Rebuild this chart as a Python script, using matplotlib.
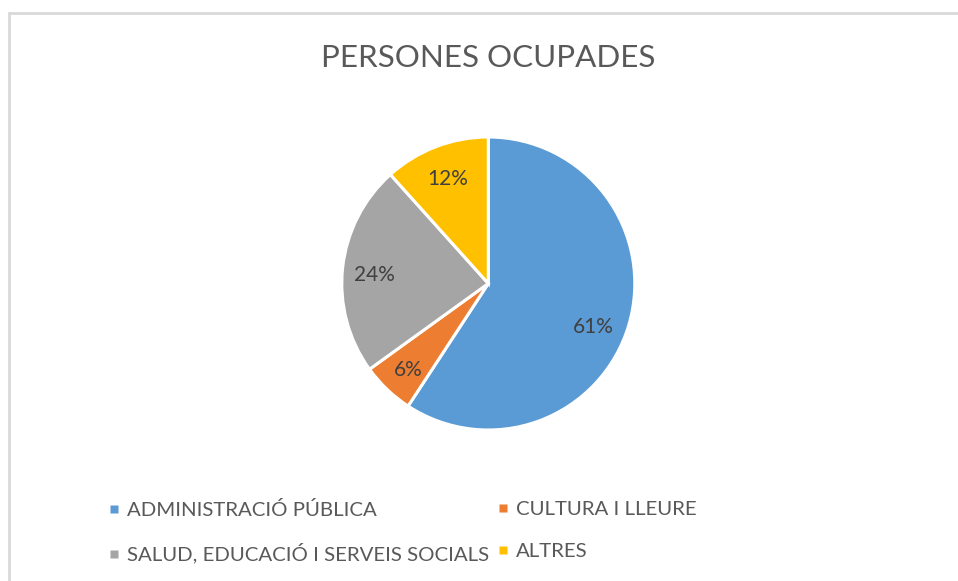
import matplotlib
matplotlib.use("Agg")
import numpy as np
import matplotlib.pyplot as plt
from matplotlib.patches import Rectangle
from matplotlib.lines import Line2D
import matplotlib.transforms as mtransforms

categories = ["ADMINISTRACIÓ PÚBLICA", "CULTURA I LLEURE",
              "SALUD, EDUCACIÓ I SERVEIS SOCIALS", "ALTRES"]
values = [61, 6, 24, 12]
pct_labels = ["61%", "6%", "24%", "12%"]
colors = ["#5B9BD5", "#ED7D31", "#A5A5A5", "#FFC000"]
title = "PERSONES OCUPADES"

plt.rcParams['font.family'] = ['Lato', 'DejaVu Sans']

W, H = 958, 581
fig = plt.figure(figsize=(W / 100, H / 100), dpi=100)
fig.patch.set_facecolor("white")

# chart area border
fig.add_artist(Rectangle((8.5 / W, -0.2), 1.2, 1.2 - 12.5 / H,
                         transform=fig.transFigure, fill=False,
                         edgecolor="#D9D9D9", linewidth=2.0))

cx, cy, r = 488.3, H - 283.5, 146.5
ax = fig.add_axes([(cx - r) / W, (cy - r) / H, 2 * r / W, 2 * r / H])
wedges, _ = ax.pie(values, colors=colors, startangle=90, counterclock=False,
                   radius=1.0,
                   wedgeprops=dict(edgecolor="white", linewidth=2.2))
# small pixel nudges of the data labels (Excel best-fit placement)
label_nudges = [(-4, -11), (-1, -4), (0, -4), (0, -2)]
for w, lab, (ox, oy) in zip(wedges, pct_labels, label_nudges):
    ang = np.deg2rad((w.theta1 + w.theta2) / 2)
    tr = ax.transData + mtransforms.ScaledTranslation(ox / 100, oy / 100,
                                                       fig.dpi_scale_trans)
    ax.text(0.78 * np.cos(ang), 0.78 * np.sin(ang), lab, ha="center",
            va="center", fontsize=15, color="#404040", transform=tr)
ax.set_xlim(-1, 1)
ax.set_ylim(-1, 1)
ax.set_aspect("equal")
ax.axis("off")

fig.text(488 / W, 1 - 58 / H, title, ha="center", va="center",
         fontsize=22.6, color="#595959")

F = 14.7
columns = [[0, 2], [1, 3]]
col_x = [106.9, 496.0]
for col, x0 in zip(columns, col_x):
    handles = [Line2D([], [], linestyle="none", marker="s", markersize=5.8,
                      markerfacecolor=colors[i], markeredgecolor="none")
               for i in col]
    labels = [categories[i] for i in col]
    leg = fig.legend(handles, labels, loc="upper left",
                     bbox_to_anchor=(x0 / W, 1 - 501 / H), frameon=False,
                     fontsize=F, handlelength=0.7, handleheight=0.7,
                     handletextpad=0.29, labelspacing=1.18,
                     borderpad=0, borderaxespad=0)
    for t in leg.get_texts():
        t.set_color("#595959")

fig.savefig("out.png", dpi=100, facecolor="white")
